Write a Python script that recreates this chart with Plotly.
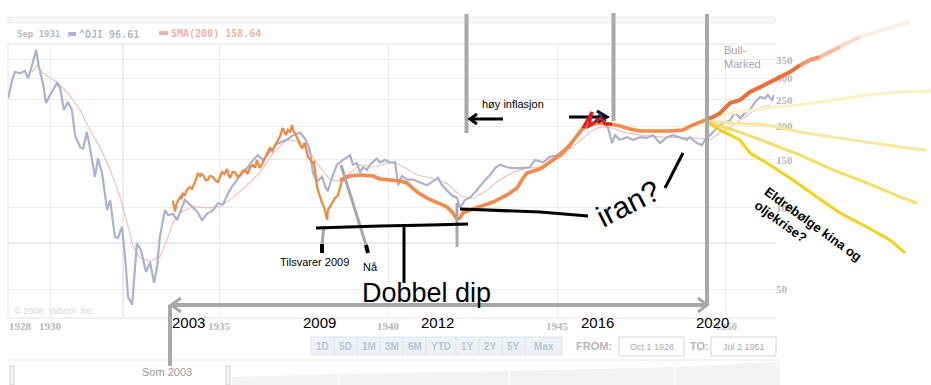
import plotly.graph_objects as go

W, H = 931, 385

# ---------------- data ----------------
dji_year = [1928.76, 1928.88, 1928.96, 1929.11, 1929.26, 1929.35, 1929.47, 1929.59, 1929.67, 1929.79,
            1929.88, 1930.00, 1930.21, 1930.30, 1930.41, 1930.53, 1930.65, 1930.74, 1930.89, 1930.98,
            1931.09, 1931.18, 1931.33, 1931.42, 1931.54, 1931.69, 1931.78, 1931.92, 1932.01, 1932.13,
            1932.22, 1932.31, 1932.43, 1932.51, 1932.57, 1932.69, 1932.84, 1932.96, 1933.08, 1933.17,
            1933.25, 1933.40, 1933.49, 1933.64, 1933.76, 1933.99, 1934.20, 1934.35, 1934.50, 1934.64,
            1934.82, 1934.97, 1935.12, 1935.27, 1935.41, 1935.62, 1935.83, 1936.01, 1936.15, 1936.30,
            1936.51, 1936.75, 1937.01, 1937.19, 1937.40, 1937.54, 1937.69, 1937.78, 1937.90, 1938.05,
            1938.14, 1938.22, 1938.34, 1938.49, 1938.67, 1938.88, 1938.96, 1939.08, 1939.17, 1939.26,
            1939.38, 1939.47, 1939.67, 1939.76, 1939.91, 1940.06, 1940.21, 1940.30, 1940.41, 1940.56,
            1940.74, 1940.95, 1941.15, 1941.33, 1941.48, 1941.60, 1941.75, 1941.89, 1942.04, 1942.13,
            1942.28, 1942.43, 1942.63, 1942.81, 1943.02, 1943.17, 1943.31, 1943.52, 1943.70, 1943.96,
            1944.20, 1944.35, 1944.59, 1944.79, 1945.00, 1945.18, 1945.38, 1945.59, 1945.77, 1945.92,
            1946.12, 1946.27, 1946.42, 1946.51, 1946.63, 1946.72, 1946.86, 1947.07, 1947.25, 1947.46,
            1947.66, 1947.84, 1948.05, 1948.25, 1948.43, 1948.64, 1948.85, 1948.93, 1949.14, 1949.29,
            1949.38, 1949.53, 1949.67, 1949.82, 1949.97, 1950.12, 1950.27, 1950.41, 1950.56, 1950.71,
            1950.86, 1951.01, 1951.15, 1951.24, 1951.36, 1951.42]
dji_value = [253, 295, 316, 313, 319, 300, 335, 381, 330, 288,
             243, 260, 288, 276, 229, 245, 229, 185, 167, 165,
             190, 167, 130, 152, 134, 98, 107, 78, 77.5, 85,
             66, 47, 44, 58, 74, 70, 58, 63, 53, 61,
             78, 98, 94, 95, 90, 107, 101, 97, 90, 95,
             98, 104, 103, 113, 121, 131, 140, 150, 156, 150,
             161, 173, 178, 185, 189, 180, 163, 134, 125, 130,
             120, 115, 129, 144, 150, 156, 144, 146, 135, 141,
             138, 144, 152, 147, 150, 147, 147, 121, 131, 127,
             127, 124, 121, 125, 129, 121, 116, 111, 109, 100,
             107, 109, 116, 124, 132, 140, 144, 141, 140, 140,
             141, 150, 147, 154, 156, 163, 167, 185, 197, 202,
             207, 214, 205, 197, 173, 185, 178, 182, 178, 182,
             181, 185, 173, 182, 185, 182, 178, 182, 173, 170,
             178, 185, 193, 202, 206, 210, 225, 214, 223, 229,
             245, 256, 253, 260, 249, 260]

sma_year = [1929.47, 1929.62, 1929.79, 1930.24, 1930.53, 1930.89, 1931.18, 1931.48, 1931.78, 1932.07,
            1932.31, 1932.46, 1932.66, 1932.96, 1933.25, 1933.46, 1933.64, 1933.85, 1934.23, 1934.64,
            1935.03, 1935.41, 1935.83, 1936.21, 1936.60, 1937.01, 1937.40, 1937.69, 1937.99, 1938.28,
            1938.58, 1938.88, 1939.17, 1939.56, 1940.06, 1940.36, 1940.86, 1941.24, 1941.75, 1942.13,
            1942.51, 1942.93, 1943.31, 1943.70, 1944.11, 1944.50, 1944.79, 1945.18, 1945.59, 1945.98,
            1946.27, 1946.57, 1946.95, 1947.46, 1948.14, 1948.64, 1949.14, 1949.53, 1949.82, 1950.12,
            1950.41, 1950.71, 1951.01, 1951.30]
sma_value = [316, 335, 313, 288, 264, 229, 193, 167, 138, 110,
             85, 72, 65.5, 63.5, 66, 76, 88, 96, 101, 100,
             101, 109, 121, 135, 159, 178, 175, 159, 141, 127,
             125, 134, 144, 141, 147, 144, 132, 129, 123, 111,
             108, 116, 127, 135, 140, 141, 147, 156, 173, 190,
             198, 198, 190, 185, 182, 182, 181, 178, 189, 198,
             210, 223, 234, 239]

# modern index overlaid on the 1930s chart: volatile 2003-2009 part
early_year = [1933.63, 1933.67, 1933.70, 1933.74, 1933.80, 1933.85, 1933.89, 1933.93, 1933.99, 1934.05,
              1934.14, 1934.20, 1934.29, 1934.33, 1934.38, 1934.44, 1934.48, 1934.53, 1934.60, 1934.67,
              1934.73, 1934.82, 1934.90, 1934.97, 1935.03, 1935.09, 1935.16, 1935.24, 1935.28, 1935.33,
              1935.40, 1935.47, 1935.55, 1935.62, 1935.70, 1935.77, 1935.84, 1935.92, 1936.01, 1936.07,
              1936.12, 1936.21, 1936.29, 1936.36, 1936.43, 1936.51, 1936.58, 1936.66, 1936.73, 1936.80,
              1936.88, 1936.94, 1936.98, 1937.04, 1937.10, 1937.16, 1937.20, 1937.25, 1937.29, 1937.34,
              1937.40, 1937.46, 1937.54, 1937.59, 1937.63, 1937.69, 1937.75, 1937.81, 1937.84, 1937.87,
              1937.90, 1937.94, 1937.99, 1938.03, 1938.08, 1938.14, 1938.20, 1938.22, 1938.28, 1938.34,
              1938.43, 1938.51, 1938.58, 1938.66, 1938.71, 1938.79, 1938.88]
early_value = [106.1, 101.5, 96.9, 103.3, 106.8, 109.6, 107.7, 113.4, 111.5, 116.3,
               119.3, 117.3, 124.4, 128.7, 134.3, 130.9, 133.2, 132.0, 126.6, 126.6,
               130.9, 129.8, 125.5, 124.4, 130.9, 135.4, 133.2, 138.9, 132.0, 128.7,
               135.4, 135.4, 129.8, 132.0, 136.6, 137.8, 133.2, 141.3, 143.7, 140.1,
               149.9, 140.1, 146.2, 153.8, 159.1, 166.0, 161.8, 170.3, 176.1, 182.2,
               196.6, 188.5, 185.3, 193.4, 190.1, 201.7, 191.7, 188.5, 182.2, 177.6,
               170.3, 166.0, 173.2, 163.2, 153.8, 151.2, 146.2, 147.4, 140.1, 128.7,
               119.3, 114.3, 109.6, 105.9, 102.4, 97.3, 90.2, 98.1, 100.7, 104.1,
               108.6, 110.5, 118.3, 128.7, 126.6, 130.9, 130.9]

# smooth 2009-2020 part
late_year = [1938.58, 1938.88, 1939.17, 1939.56, 1939.76, 1940.06, 1940.36, 1940.56, 1940.86, 1941.15,
             1941.45, 1941.75, 1941.92, 1942.04, 1942.13, 1942.22, 1942.34, 1942.72, 1943.11, 1943.52,
             1943.82, 1943.96, 1944.11, 1944.50, 1944.79, 1945.09, 1945.38, 1945.62, 1945.77, 1945.98,
             1946.27, 1946.57, 1946.86, 1947.16, 1947.46, 1947.96, 1948.34, 1948.73, 1949.02, 1949.32,
             1949.53]
late_value = [126.6, 130.9, 132.0, 130.9, 127.7, 126.6, 125.5, 123.4, 114.3, 108.6,
              105.0, 100.7, 95.7, 90.9, 91.7, 95.7, 97.3, 100.7, 105.0, 111.5,
              118.3, 126.6, 134.3, 138.9, 147.4, 156.4, 170.3, 185.3, 196.6, 201.7,
              205.1, 203.4, 200.0, 195.0, 191.7, 191.7, 191.7, 193.4, 201.7, 208.6,
              213.9]

# "bull market" path drawn beyond 2020
bull_year = [1949.44, 1949.62, 1949.82, 1949.97, 1950.12, 1950.41, 1950.71, 1951.01, 1951.30, 1951.60,
             1951.89, 1952.19, 1952.49, 1952.78, 1953.08, 1953.37, 1953.67, 1953.96, 1954.41, 1954.85,
             1955.44]
bull_value = [212, 216, 223, 233, 243, 249, 267, 278, 290, 303,
              316, 335, 350, 359, 374, 391, 408, 425, 444, 459,
              483]

# yellow scenario paths after 2020
proj1_year = [1949.44, 1949.82, 1950.41, 1951.21, 1952.19, 1953.17, 1954.17, 1955.15, 1956.07]
proj1_value = [210, 220, 225, 233, 239, 249, 260, 267, 269]
proj2_year = [1949.44, 1950.21, 1951.21, 1952.19, 1953.17, 1954.17, 1955.15, 1955.95]
proj2_value = [208.6, 205, 201.7, 190, 182, 174.6, 167.4, 163]
proj3_year = [1949.44, 1950.21, 1951.21, 1952.19, 1953.17, 1954.17, 1955.15, 1955.65]
proj3_value = [206.9, 193.4, 174.6, 156.4, 137.8, 123.4, 109.6, 104.1]
proj4_year = [1949.44, 1949.82, 1950.41, 1950.71, 1951.21, 1951.98, 1952.69, 1953.37, 1954.17, 1954.85,
              1955.30]
proj4_value = [206.9, 193.4, 177.6, 159.1, 146.2, 126.6, 109.6, 95.7, 85.0, 76.1, 68.2]

# axis ticks
x_tick_vals = [1929.11, 1930, 1935, 1940, 1945, 1950]
x_tick_text = ["1928", "1930", "1935", "1940", "1945", "1950"]
x_grid_years = [1930, 1935, 1940, 1945, 1950]
y_tick_vals = [50, 100, 150, 200, 250, 300, 350]
y_tick_text = ["50", "100", "150", "200", "250", "300", "350"]

# hand-written era labels and where they sit on the time axis
era_text = ["2003", "2009", "2012", "2016", "2020"]
era_year = [1934.11, 1937.96, 1941.45, 1946.21, 1949.59]

buttons = ["1D", "5D", "1M", "3M", "6M", "YTD", "1Y", "2Y", "5Y", "Max"]

# ---------------- helpers (pixel -> paper) ----------------
def fx(x):
    return x / W


def fy(y):
    return 1 - y / H


def ann(x, y, text, size=11, color="#000000", family="Liberation Sans", weight="normal",
        xanchor="center", yanchor="middle", angle=0, align="center"):
    return dict(x=fx(x), y=fy(y), xref="paper", yref="paper", text=text, showarrow=False,
                font=dict(size=size, color=color, family=family, weight=weight),
                xanchor=xanchor, yanchor=yanchor, textangle=angle, align=align)


def line(x0, y0, x1, y1, color, width, layer="above"):
    return dict(type="line", xref="paper", yref="paper", x0=fx(x0), y0=fy(y0), x1=fx(x1), y1=fy(y1),
                line=dict(color=color, width=width), layer=layer)


def path(pts, color, width, fill=None, close=False, layer="above"):
    d = "M " + " L ".join(f"{fx(a):.5f},{fy(b):.5f}" for a, b in pts)
    if close:
        d += " Z"
    s = dict(type="path", xref="paper", yref="paper", path=d, layer=layer,
             line=dict(color=color, width=width))
    if fill:
        s["fillcolor"] = fill
    return s


def rect(x0, y0, x1, y1, fill, lc, lw=1, layer="below"):
    return dict(type="rect", xref="paper", yref="paper", x0=fx(x0), y0=fy(y0), x1=fx(x1), y1=fy(y1),
                fillcolor=fill, line=dict(color=lc, width=lw), layer=layer)


fig = go.Figure()

# Yahoo chart lines live on the framed axes (x, y)
F = dict(xaxis="x", yaxis="y", mode="lines", hoverinfo="skip", showlegend=False)
fig.add_trace(go.Scatter(x=sma_year, y=sma_value, line=dict(color="#f2c2b5", width=1.2), **F))
fig.add_trace(go.Scatter(x=dji_year, y=dji_value, line=dict(color="#aab2d0", width=2.2), **F))

# drawn-on overlay lines live on full-canvas axes (x2, y2) sharing the same scales
T = dict(xaxis="x2", yaxis="y2", mode="lines", hoverinfo="skip", showlegend=False)
fig.add_trace(go.Scatter(x=early_year, y=early_value, line=dict(color="#f5873a", width=2.2), **T))
fig.add_trace(go.Scatter(x=late_year, y=late_value, line=dict(color="#f28a4a", width=3.6), **T))

fig.add_trace(go.Scatter(x=proj1_year, y=proj1_value, line=dict(color="#fcf2c6", width=3), **T))
fig.add_trace(go.Scatter(x=proj2_year, y=proj2_value, line=dict(color="#f9e89c", width=3), **T))
fig.add_trace(go.Scatter(x=proj3_year, y=proj3_value, line=dict(color="#f6df68", width=3), **T))
fig.add_trace(go.Scatter(x=proj4_year, y=proj4_value, line=dict(color="#f3d218", width=3), **T))

fade = [(0, 11, "rgba(233,112,56,1)"), (11, 13, "rgba(236,125,72,0.8)"),
        (13, 15, "rgba(240,140,90,0.6)"), (15, 17, "rgba(243,160,115,0.4)"),
        (17, 20, "rgba(246,180,140,0.22)")]
for a, b, c in fade:
    fig.add_trace(go.Scatter(x=bull_year[a:b + 1], y=bull_value[a:b + 1],
                             line=dict(color=c, width=4), **T))

# ---------------- shapes ----------------
shapes = []
# yahoo widget frame
shapes.append(rect(8, 17, 775, 23, "#f7f7f7", "#ececec"))
shapes.append(line(8, 44, 775, 44, "#e4e4e4", 1, "below"))
shapes.append(line(8, 44, 8, 318, "#e4e4e4", 1, "below"))
shapes.append(line(8, 318, 775, 318, "#e4e4e4", 1, "below"))
shapes.append(line(123, 44, 123, 318, "#d3d7e0", 1, "below"))
shapes.append(line(8, 243, 775, 243, "#d3d7e0", 1, "below"))
shapes.append(rect(69, 32, 76, 36, "#aab3cf", "#aab3cf", 0, "above"))
shapes.append(rect(159, 31, 168, 35, "#f4b3a3", "#f4b3a3", 0, "above"))
# navigator
shapes.append(line(8, 360, 780, 360, "#e6e6e6", 1, "below"))
shapes.append(path([(232, 385), (232, 377), (340, 374), (510, 371), (676, 367), (780, 362), (780, 385)],
                   "rgba(0,0,0,0)", 0, fill="#f3f3f3", close=True, layer="below"))
for sx in (339, 509, 675):
    shapes.append(line(sx, 362, sx, 385, "#ffffff", 2, "below"))
shapes.append(rect(10, 366, 14, 385, "#f6f6f6", "#cfcfcf"))
shapes.append(rect(226, 366, 230, 385, "#f6f6f6", "#cfcfcf"))
# buttons
edges = [311, 334, 357, 380, 403, 426, 456, 479, 502, 525, 562]
shapes.append(rect(311, 337, 562, 355, "#eef1f6", "#dde3ec"))
for e in edges[1:-1]:
    shapes.append(line(e, 337, e, 355, "#dde3ec", 1, "below"))
shapes.append(rect(619, 337, 684, 356, "#ffffff", "#d5d5d5"))
shapes.append(rect(711, 337, 776, 356, "#ffffff", "#d5d5d5"))

# gray hand-drawn lines
G = "#a8a8a8"
shapes.append(line(466.5, 14, 466.5, 133, G, 4))
shapes.append(line(613.5, 13, 613.5, 121, G, 4))
shapes.append(line(707, 14, 707, 305, G, 4))
shapes.append(line(172, 305, 707, 305, G, 4))
shapes.append(path([(181, 298), (171, 305), (181, 312)], G, 3))
shapes.append(path([(698, 298), (707, 305), (698, 312)], G, 3))
shapes.append(line(170, 305, 170, 366, G, 4))
shapes.append(line(324, 226, 322, 244, G, 3))
shapes.append(line(341, 165, 366, 245, G, 3))
shapes.append(line(457, 203, 457, 247, G, 3))

# black hand-drawn lines
K = "#000000"
shapes.append(line(322, 244, 322, 253, K, 4))
shapes.append(line(366, 245, 368, 253, K, 4))
shapes.append(path([(316, 228), (380, 226), (430, 225), (468, 224)], K, 3))
shapes.append(line(404, 225, 404, 283, K, 3))
shapes.append(path([(460, 209), (540, 212), (588, 216)], K, 3))
shapes.append(line(665, 188, 683, 153, K, 3))
shapes.append(line(470, 119, 503, 119, K, 3))
shapes.append(path([(477, 114), (470, 119), (477, 124)], K, 3))
shapes.append(line(569, 117, 606, 117, K, 3))
shapes.append(path([(597, 111), (607, 117), (598, 122)], K, 3))
shapes.append(path([(583, 128), (592, 112), (589, 126), (601, 118), (605, 124), (612, 124)], "#e31b1b", 3))
shapes.append(path([(595, 122), (600, 113), (606, 121)], "#1f2a6b", 1.5))

# ---------------- annotations ----------------
anns = []
anns.append(ann(15, 34, "Sep 1931 :", 9, "#b4b9c6", "DejaVu Sans Mono", "bold", xanchor="left"))
anns.append(ann(77, 34, "^DJI 96.61", 10, "#b4b9c6", "DejaVu Sans Mono", "bold", xanchor="left"))
anns.append(ann(169, 33, "SMA(200) 158.64", 10, "#f2b1a1", "DejaVu Sans Mono", "bold", xanchor="left"))
anns.append(ann(12, 311, "© 2008  Yahoo!  Inc.", 9, "#d6d6d6", xanchor="left"))
anns.append(ann(722, 50, "Bull-", 11, "#a6a6a6", xanchor="left"))
anns.append(ann(722, 64, "Marked", 11, "#a6a6a6", xanchor="left"))
anns.append(ann(513, 104, "høy inflasjon", 11))
anns.append(ann(314, 262, "Tilsvarer 2009", 11))
anns.append(ann(370, 267, "Nå", 11))
anns.append(ann(426, 293, "Dobbel dip", 27))
anns.append(ann(628, 204, "iran?", 30, angle=-27))
anns.append(ann(808, 231, "Eldrebølge kina og<br>oljekrise?", 13, weight="bold", angle=36, align="left"))
anns.append(ann(167, 372, "Som 2003", 11, "#9a9a9a"))
for t, yr in zip(era_text, era_year):
    anns.append(dict(x=yr, y=fy(322), xref="x2", yref="paper", text=t, showarrow=False,
                     xanchor="center", yanchor="middle",
                     font=dict(size=15, color="#000000", family="Liberation Sans")))
for i, b in enumerate(buttons):
    anns.append(ann((edges[i] + edges[i + 1]) / 2, 346, b, 10, "#b8c6dd", weight="bold"))
anns.append(ann(594, 346, "FROM:", 11, "#b5b5b5", weight="bold"))
anns.append(ann(651.5, 346.5, "Oct 1 1928", 9, "#aaaaaa"))
anns.append(ann(699, 346, "TO:", 11, "#b5b5b5", weight="bold"))
anns.append(ann(743.5, 346.5, "Jul 2 1951", 9, "#aaaaaa"))

tickfont = dict(family="Liberation Serif", size=11, color="#b8b8b8", weight="bold")

fig.update_layout(
    width=W, height=H,
    margin=dict(l=0, r=0, t=0, b=0),
    paper_bgcolor="#ffffff",
    plot_bgcolor="rgba(0,0,0,0)",
    showlegend=False,
    xaxis=dict(domain=[8 / W, 775 / W], range=[1928.757, 1951.45], anchor="y",
               tickmode="array", tickvals=x_tick_vals, ticktext=x_tick_text, tickfont=tickfont,
               showgrid=False, zeroline=False, showline=False, ticks="",
               minor=dict(tickvals=x_grid_years, showgrid=True, gridcolor="#ececec", gridwidth=1, ticks="")),
    yaxis=dict(domain=[67 / H, 341 / H], type="log", range=[1.59437, 2.60283], anchor="x",
               side="right", tickmode="array", tickvals=y_tick_vals, ticktext=y_tick_text,
               tickfont=tickfont, showgrid=True, gridcolor="#ececec", zeroline=False,
               showline=False, ticks=""),
    xaxis2=dict(domain=[0, 1], range=[1928.521, 1956.065], anchor="y2", visible=False),
    yaxis2=dict(domain=[0, 1], type="log", range=[1.34777, 2.76478], anchor="x2", visible=False),
    shapes=shapes,
    annotations=anns,
)

fig.write_html("out.html", config={"displayModeBar": False, "staticPlot": True},
               post_script="document.body.style.margin='0';")
